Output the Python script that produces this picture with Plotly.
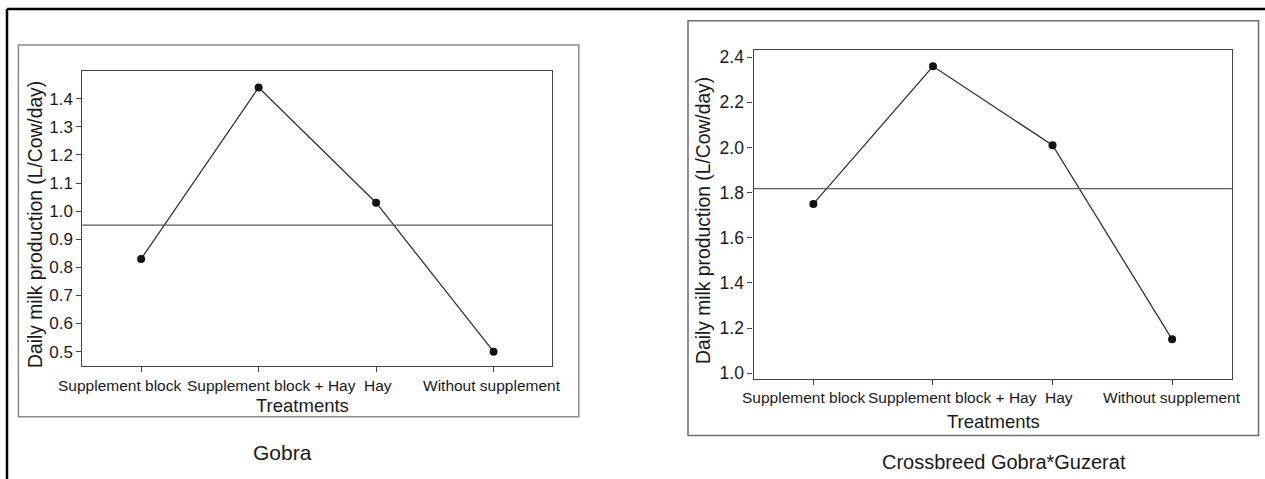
import plotly.graph_objects as go
import numpy as np

# ---------------- data ----------------
treatments = ["Supplement block", "Supplement block + Hay", "Hay", "Without supplement"]
gobra_milk = [0.83, 1.44, 1.03, 0.50]
cross_milk = [1.75, 2.36, 2.01, 1.15]
gobra_yticks = [0.5, 0.6, 0.7, 0.8, 0.9, 1.0, 1.1, 1.2, 1.3, 1.4]
cross_yticks = [1.0, 1.2, 1.4, 1.6, 1.8, 2.0, 2.2, 2.4]
gobra_title = "Gobra"
cross_title = "Crossbreed Gobra*Guzerat"
x_title = "Treatments"
y_title = "Daily milk production (L/Cow/day)"

# label nudges (pixels) so the long category names do not collide
left_label_shift = [-22, 13, 2, -2]
right_label_shift = [-10, 20, 6, 0]

W, H = 1265, 479
FONT = "Liberation Sans, Arial, sans-serif"
TXT = "#1a1a1a"


def px(x):
    return x / W


def py(y):
    return 1 - y / H


fig = go.Figure()

for i, (vals, name) in enumerate([(gobra_milk, gobra_title), (cross_milk, cross_title)]):
    xa = "x" if i == 0 else "x2"
    ya = "y" if i == 0 else "y2"
    fig.add_trace(go.Scatter(
        x=treatments, y=vals, xaxis=xa, yaxis=ya, mode="lines+markers",
        line=dict(color="#333333", width=1.3),
        marker=dict(color="#111111", size=8),
        showlegend=False, name=name, cliponaxis=False,
    ))

axis_common = dict(
    showline=True, mirror=True, linecolor="#444444", linewidth=1.3,
    ticks="outside", ticklen=5, tickcolor="#444444", tickwidth=1,
    showgrid=False, zeroline=False, automargin=False,
)

fig.update_layout(
    width=W, height=H,
    margin=dict(l=0, r=0, t=0, b=0),
    paper_bgcolor="white", plot_bgcolor="white",
    xaxis=dict(domain=[px(82.4), px(552.3)], range=[-0.5, 3.5], type="category",
               categoryorder="array", categoryarray=treatments,
               anchor="y", showticklabels=False, **axis_common),
    yaxis=dict(domain=[py(365.7), py(71)], range=[0.45, 1.4986], tickvals=gobra_yticks,
               ticktext=[f"{v:.1f}" for v in gobra_yticks], anchor="x",
               tickfont=dict(family=FONT, size=17, color=TXT), **axis_common),
    xaxis2=dict(domain=[px(753.6), px(1231.9)], range=[-0.5, 3.5], type="category",
                categoryorder="array", categoryarray=treatments,
                anchor="y2", showticklabels=False, **axis_common),
    yaxis2=dict(domain=[py(379.3), py(50)], range=[0.973, 2.432], tickvals=cross_yticks,
                ticktext=[f"{v:.1f}" for v in cross_yticks], anchor="x2",
                tickfont=dict(family=FONT, size=17.5, color=TXT), **axis_common),
)

# mean reference lines
for vals, xr, yr in [(gobra_milk, "x domain", "y"), (cross_milk, "x2 domain", "y2")]:
    m = float(np.mean(vals))
    fig.add_shape(type="line", xref=xr, yref=yr, x0=0, x1=1, y0=m, y1=m,
                  line=dict(color="#5a5a5a", width=1.2))

# panel frames
fig.add_shape(type="rect", xref="paper", yref="paper",
              x0=px(18.4), x1=px(578.8), y0=py(416.7), y1=py(45),
              line=dict(color="#8c8c8c", width=1.5))
fig.add_shape(type="rect", xref="paper", yref="paper",
              x0=px(688), x1=px(1258.5), y0=py(435.5), y1=py(20.7),
              line=dict(color="#6e6e6e", width=1.5))

# outer black border (top and left)
fig.add_shape(type="line", xref="paper", yref="paper",
              x0=px(7), x1=1.0, y0=py(9), y1=py(9), line=dict(color="black", width=2.5))
fig.add_shape(type="line", xref="paper", yref="paper",
              x0=px(7), x1=px(7), y0=py(9), y1=0, line=dict(color="black", width=2.5))

# category labels under each axis
for xr, ymid, shifts, fs in [("x", 385.7, left_label_shift, 15.5),
                             ("x2", 397.5, right_label_shift, 15.5)]:
    for cat, sh in zip(treatments, shifts):
        fig.add_annotation(text=cat, x=cat, xref=xr, y=py(ymid), yref="paper",
                           xanchor="center", yanchor="middle", xshift=sh,
                           showarrow=False,
                           font=dict(family=FONT, size=fs, color=TXT))

# axis titles and panel captions
anns = [
    dict(text=x_title, x=px(302.7), y=py(405.5), size=18.5, angle=0),
    dict(text=x_title, x=px(993), y=py(421), size=18.5, angle=0),
    dict(text=y_title, x=px(35), y=py(225), size=19.3, angle=-90),
    dict(text=y_title, x=px(703), y=py(221), size=19.3, angle=-90),
    dict(text=gobra_title, x=px(282.5), y=py(452.5), size=21, angle=0),
    dict(text=cross_title, x=px(1004), y=py(462), size=20, angle=0),
]
for a in anns:
    fig.add_annotation(text=a["text"], x=a["x"], y=a["y"], xref="paper", yref="paper",
                       xanchor="center", yanchor="middle", showarrow=False,
                       textangle=a["angle"],
                       font=dict(family=FONT, size=a["size"], color=TXT))

# the page's default 8px body margin would push the 1265x479 figure off-window
fig.write_html("out.html", config={"displayModeBar": False},
               post_script="document.body.style.margin='0';")
